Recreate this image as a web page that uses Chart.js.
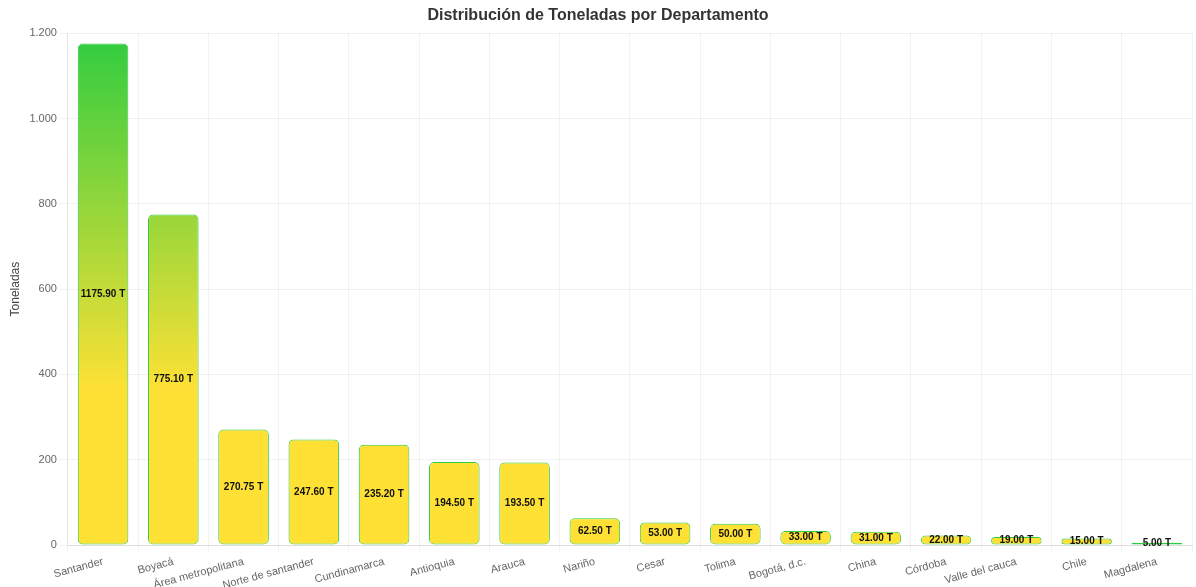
<!DOCTYPE html>
<html lang="es">
<head>
<meta charset="utf-8">
<title>Distribución de Toneladas por Departamento</title>
<script src="https://cdn.jsdelivr.net/npm/chart.js@4.4.1/dist/chart.umd.min.js"></script>
<style>
  html, body { margin: 0; padding: 0; background: #fff; }
  #wrap { position: relative; width: 1196px; height: 587px; }
</style>
</head>
<body>
<div id="wrap"><canvas id="tonChart"></canvas></div>
<script>
// ================= Data =================
const departamentos = [
  "Santander", "Boyacá", "Área metropolitana", "Norte de santander", "Cundinamarca",
  "Antioquia", "Arauca", "Nariño", "Cesar", "Tolima", "Bogotá, d.c.", "China",
  "Córdoba", "Valle del cauca", "Chile", "Magdalena"
];
const toneladas = [
  1175.90, 775.10, 270.75, 247.60, 235.20, 194.50, 193.50, 62.50,
  53.00, 50.00, 33.00, 31.00, 22.00, 19.00, 15.00, 5.00
];
const yMax = 1200;
const yStep = 200;

const FONT = "'Liberation Sans', Arial, Helvetica, sans-serif";

// ================= Helpers =================
function formatMiles(v) {
  return String(v).replace(/\B(?=(\d{3})+(?!\d))/g, ".");
}

function barGradient(ctx) {
  const chart = ctx.chart;
  const area = chart.chartArea;
  if (!area) return "#ffe135";
  const g = chart.ctx.createLinearGradient(0, area.bottom, 0, area.top);
  g.addColorStop(0, "#ffe135");
  g.addColorStop(0.3, "#ffe135");
  g.addColorStop(1, "#2ecc40");
  return g;
}

// draws "xx.xx T" in the middle of each bar
const barLabels = {
  id: "barLabels",
  afterDatasetsDraw(chart) {
    const { ctx } = chart;
    const meta = chart.getDatasetMeta(0);
    ctx.save();
    ctx.font = "bold 10px " + FONT;
    ctx.fillStyle = "#111";
    ctx.textAlign = "center";
    ctx.textBaseline = "middle";
    meta.data.forEach((bar, i) => {
      const y = (bar.y + bar.base) / 2;
      ctx.fillText(toneladas[i].toFixed(2) + " T", bar.x, y);
    });
    ctx.restore();
  }
};

// ================= Chart =================
new Chart(document.getElementById("tonChart"), {
  type: "bar",
  data: {
    labels: departamentos,
    datasets: [{
      label: "Toneladas",
      data: toneladas,
      backgroundColor: barGradient,
      borderColor: "rgb(46, 204, 64)",
      borderWidth: 1,
      borderRadius: 5,
      borderSkipped: false
    }]
  },
  options: {
    responsive: true,
    maintainAspectRatio: false,
    animation: false,
    layout: { padding: { left: 4, right: 4 } },
    plugins: {
      legend: { display: false },
      tooltip: { enabled: true },
      title: {
        display: true,
        text: "Distribución de Toneladas por Departamento",
        color: "#333",
        font: { family: FONT, size: 16, weight: "bold" },
        padding: { top: 6, bottom: 8 }
      }
    },
    scales: {
      x: {
        grid: { color: "rgba(0,0,0,0.05)" },
        border: { color: "#ddd" },
        ticks: {
          color: "#666",
          font: { family: FONT, size: 11 },
          minRotation: 15,
          maxRotation: 15,
          autoSkip: false,
          padding: 2
        },
        // labels are allowed to run to the bottom edge, like the original
        afterFit: (scale) => { scale.height = 42; }
      },
      y: {
        beginAtZero: true,
        max: yMax,
        grid: { color: "rgba(0,0,0,0.05)" },
        border: { color: "#e5e5e5" },
        ticks: {
          stepSize: yStep,
          color: "#666",
          font: { family: FONT, size: 11 },
          callback: (v) => formatMiles(v)
        },
        title: {
          display: true,
          text: "Toneladas",
          color: "#444",
          font: { family: FONT, size: 12 },
          padding: { top: 4, bottom: 4 }
        }
      }
    }
  },
  plugins: [barLabels]
});
</script>
</body>
</html>
